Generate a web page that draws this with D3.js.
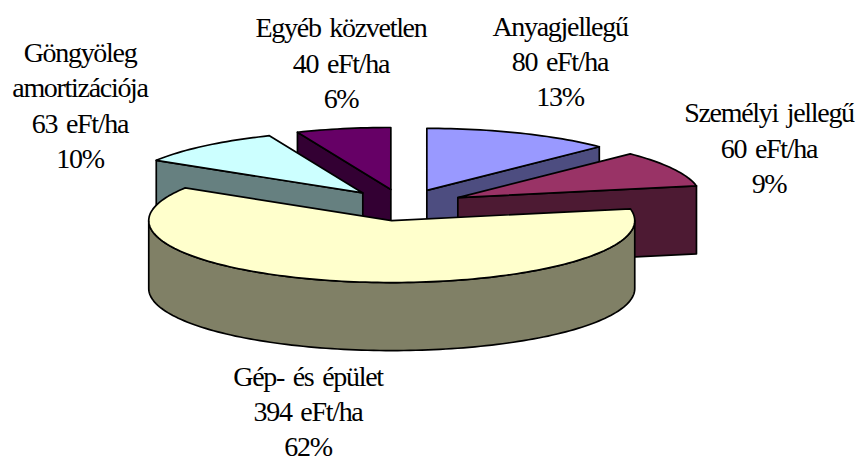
<!DOCTYPE html>
<html><head><meta charset="utf-8">
<script src="https://cdnjs.cloudflare.com/ajax/libs/d3/7.8.5/d3.min.js"></script>
<style>html,body{margin:0;padding:0;background:#fff}svg{display:block}
text{font-family:"Liberation Serif",serif;font-size:28px;letter-spacing:-1.3px;word-spacing:3px;fill:#000}</style>
</head><body><svg id="c" width="855" height="457"></svg>
<script>
const categories = ["Anyagjellegű","Személyi jellegű","Gép- és épület","Göngyöleg amortizációja","Egyéb közvetlen"];
const values = [80,60,394,63,40];
const percents = ["13%","9%","62%","10%","6%"];
const unit = "eFt/ha";
const topColors = ["#9999FF","#993366","#FFFFCC","#CCFFFF","#660066"];
const sideColors = ["#4D4D80","#4D1A33","#808066","#668080","#330033"];

const cx=403, cy=205, rx=243, ry=62, depth=68, explode=62;
// centre x and first baseline of each label, in slice order
const labelPos=[[560,36],[769,122],[308,386],[80,62],[341,37]];
const lineStep=[35,35.5,35,35.3,35.5];
const labelLines=[
  [categories[0]],
  [categories[1]],
  [categories[2]],
  ["Göngyöleg","amortizációja"],
  [categories[4]]
];

const svg=d3.select("#c");
const TAU=2*Math.PI;
const pie=d3.pie().sort(null).value(d=>d).startAngle(0).endAngle(TAU);
const arcs=pie(values);
const line=d3.line();

function sample(a0,a1,ox,oy,dy){
  const n=Math.max(2,Math.ceil(Math.abs(a1-a0)*40));
  return d3.range(n+1).map(i=>{
    const a=a0+(a1-a0)*i/n;
    return [ox+rx*Math.sin(a),oy-ry*Math.cos(a)+dy];
  });
}
// painter's order: rear slices first, the big front slice last
const order=[4,3,0,1,2];
const stroke={stroke:"#000","stroke-width":1.7,"stroke-linejoin":"round"};
function draw(pts,fill,close){
  const p=svg.append("path").attr("d",line(pts)+(close?"Z":""))
    .attr("fill",fill);
  Object.entries(stroke).forEach(([k,v])=>p.attr(k,v));
}
order.forEach(i=>{
  const d=arcs[i];
  const mid=(d.startAngle+d.endAngle)/2;
  const ox=cx+explode*Math.sin(mid), oy=cy-explode*(ry/rx)*Math.cos(mid);
  const apex=[ox,oy];
  const wall=a=>{
    const e=sample(a,a,ox,oy,0)[0];
    draw([apex,e,[e[0],e[1]+depth],[apex[0],apex[1]+depth]],sideColors[i],true);
  };
  // radial cut walls that face the viewer
  if(Math.sin(d.startAngle)<-1e-6) wall(d.startAngle);
  if(Math.sin(d.endAngle)>1e-6) wall(d.endAngle);
  // outer rim, front half only
  const r0=Math.max(d.startAngle,Math.PI/2), r1=Math.min(d.endAngle,3*Math.PI/2);
  if(r1>r0){
    const t=sample(r0,r1,ox,oy,0), b=sample(r0,r1,ox,oy,depth).reverse();
    draw(t.concat(b),sideColors[i],true);
  }
  // top face
  draw([apex].concat(sample(d.startAngle,d.endAngle,ox,oy,0)),topColors[i],true);
});
// labels
arcs.forEach((d,i)=>{
  const rows=labelLines[i].concat([values[i]+" "+unit,percents[i]]);
  const t=svg.append("text").attr("text-anchor","middle");
  rows.forEach((r,j)=>t.append("tspan")
    .attr("x",labelPos[i][0]).attr("y",labelPos[i][1]+j*lineStep[i]).text(r));
});
</script></body></html>
